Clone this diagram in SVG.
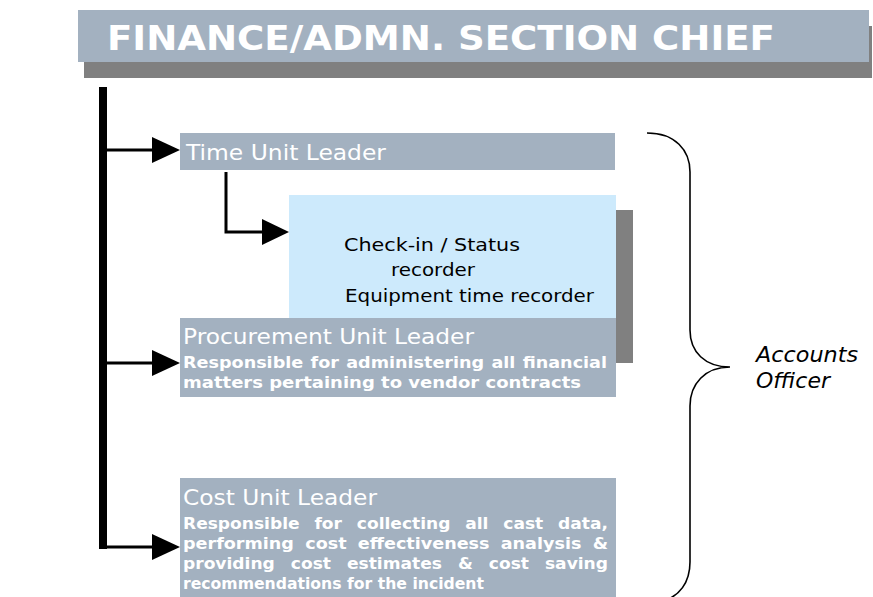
<svg xmlns="http://www.w3.org/2000/svg" width="873" height="597" viewBox="0 0 873 597">
<style>
.box{fill:#a3b1c0}
.shadow{fill:#808080}
.ttl{font-family:"DejaVu Sans",Verdana,sans-serif;font-size:21.5px;fill:#ffffff}
.bd{font-family:"DejaVu Sans",Verdana,sans-serif;font-size:15.3px;font-weight:bold;fill:#ffffff}
.blk{font-family:"DejaVu Sans",Verdana,sans-serif;font-size:18.5px;fill:#000000}
.it{font-family:"DejaVu Sans",Verdana,sans-serif;font-size:21.5px;font-style:italic;fill:#000000}
.ln{stroke:#000;stroke-width:3;fill:none}
.ah{fill:#000}
</style>
<rect width="873" height="597" fill="#ffffff"/>
<g id="header">
<rect class="shadow" x="84" y="26" width="788" height="52"/>
<rect class="box" x="78" y="10" width="791" height="52"/>
<text x="107" y="50" font-family="DejaVu Sans,Verdana,sans-serif" font-size="33" font-weight="bold" fill="#fff" textLength="668" lengthAdjust="spacingAndGlyphs">FINANCE/ADMN. SECTION CHIEF</text>
</g>
<g id="connectors">
<rect x="99" y="87" width="8" height="462" fill="#000"/>
<path class="ln" d="M107,150 H155"/>
<polygon class="ah" points="152,137 180,150 152,163"/>
<path class="ln" d="M226,172 V232 H265"/>
<polygon class="ah" points="262,219 289,232 262,245"/>
<path class="ln" d="M107,363 H155"/>
<polygon class="ah" points="152,350 180,363 152,376"/>
<path class="ln" d="M103,547 H155"/>
<polygon class="ah" points="152,534 180,547 152,560"/>
</g>
<g id="time-unit">
<rect class="box" x="180" y="133" width="435" height="37"/>
<text class="ttl" x="186" y="160" textLength="200" lengthAdjust="spacingAndGlyphs">Time Unit Leader</text>
</g>
<g id="recorders">
<rect class="shadow" x="616" y="210" width="17" height="153"/>
<rect x="289" y="195" width="327" height="123" fill="#cdeafc"/>
<text class="blk" x="344" y="251" textLength="176" lengthAdjust="spacingAndGlyphs">Check-in / Status</text>
<text class="blk" x="391" y="276" textLength="84" lengthAdjust="spacingAndGlyphs">recorder</text>
<text class="blk" x="345" y="302" textLength="249" lengthAdjust="spacingAndGlyphs">Equipment time recorder</text>
</g>
<g id="procurement">
<rect class="box" x="180" y="318" width="436" height="79"/>
<text class="ttl" x="183" y="344" textLength="291" lengthAdjust="spacingAndGlyphs">Procurement Unit Leader</text>
<text class="bd" x="183" y="368" word-spacing="1" textLength="424" lengthAdjust="spacingAndGlyphs">Responsible for administering all financial</text>
<text class="bd" x="183" y="388" textLength="398" lengthAdjust="spacingAndGlyphs">matters pertaining to vendor contracts</text>
</g>
<g id="cost-unit">
<rect class="box" x="180" y="478" width="436" height="122"/>
<text class="ttl" x="183" y="505" textLength="194" lengthAdjust="spacingAndGlyphs">Cost Unit Leader</text>
<text class="bd" x="183" y="529" word-spacing="8" textLength="425" lengthAdjust="spacingAndGlyphs">Responsible for collecting all cast data,</text>
<text class="bd" x="183" y="549" word-spacing="4.5" textLength="425" lengthAdjust="spacingAndGlyphs">performing cost effectiveness analysis &amp;</text>
<text class="bd" x="183" y="569" word-spacing="9" textLength="425" lengthAdjust="spacingAndGlyphs">providing cost estimates &amp; cost saving</text>
<text class="bd" x="183" y="589" textLength="301" lengthAdjust="spacingAndGlyphs">recommendations for the incident</text>
</g>
<g id="accounts-officer">
<path d="M647,133 C675,133 690,150 690,172 L690,330 C690,352 705,367 730,367 C705,367 690,384 690,406 L690,562 C690,582 680,597 660,602" fill="none" stroke="#000" stroke-width="1.6"/>
<text class="it" x="756" y="362" textLength="102" lengthAdjust="spacingAndGlyphs">Accounts</text>
<text class="it" x="756" y="388" textLength="74" lengthAdjust="spacingAndGlyphs">Officer</text>
</g>
</svg>
